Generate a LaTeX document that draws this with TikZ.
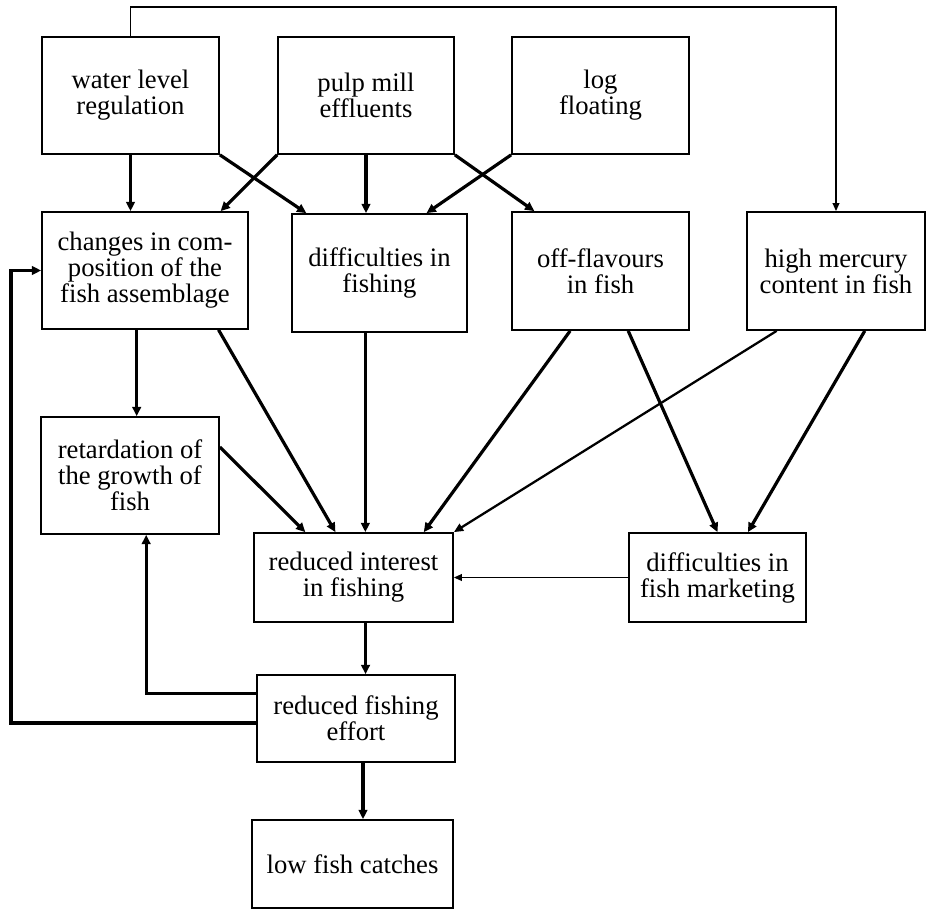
\documentclass[tikz,border=0pt]{standalone}
\usepackage{fontspec}
\setmainfont{Liberation Serif}
\usetikzlibrary{arrows.meta,calc}

\tikzset{every picture/.style={line width=0.75pt}}
\tikzset{
  factor/.style={draw, rectangle, line width=1.3pt, align=center, inner sep=0pt,
    font=\fontsize{20}{19.5}\selectfont},
  boxsize/.style 2 args={minimum width=#1*0.75pt, minimum height=#2*0.75pt},
  link/.style={line width=2.4pt, -{Triangle[length=7pt,width=6.5pt]}},
  midlink/.style={line width=1.7pt, -{Triangle[length=7pt,width=6pt]}},
  thinlink/.style={line width=1.2pt, -{Triangle[length=6pt,width=5pt]}},
}

\begin{document}
\begin{tikzpicture}[x=0.75pt,y=0.75pt,yscale=-1,xscale=1]
    \useasboundingbox (0,0) rectangle (928,910);

    %Shape: Rectangle (causes)
    \node[factor, boxsize={177}{117}] (water) at (130.5,95.5) {water level\\regulation};
    \node[factor, boxsize={176}{117}] (pulp) at (366,95.5) {pulp mill\\effluents};
    \node[factor, boxsize={177}{117}] (logf) at (600.5,95.5) {log\\floating};
    %Shape: Rectangle (effects)
    \node[factor, boxsize={206}{117}] (changes) at (145,270.5) {changes in com-\\position of the\\fish assemblage};
    \node[factor, boxsize={175}{118}] (fishing) at (379.5,273) {difficulties in\\fishing};
    \node[factor, boxsize={177}{118}] (flavour) at (600.5,271) {off-flavours\\in fish};
    \node[factor, boxsize={178}{118}] (mercury) at (836,271) {high mercury\\content in fish};
    \node[factor, boxsize={178}{117}] (growth) at (130,475.5) {retardation of\\the growth of\\fish};
    \node[factor, boxsize={199}{89}] (interest) at (353.5,577.5) {reduced interest\\in fishing};
    \node[factor, boxsize={177}{89}] (marketing) at (717.5,577.5) {difficulties in\\fish marketing};
    \node[factor, boxsize={198}{87}] (effort) at (356,718.5) {reduced fishing\\effort};
    \node[factor, boxsize={201}{88}] (catches) at (352.5,864) {low fish catches};

    %Coordinates for the connectors
    \coordinate (cs) at ($(changes.south west)!0.46!(changes.south east)$);
    \coordinate (fs) at ($(fishing.south west)!0.42!(fishing.south east)$);
    \coordinate (is) at ($(interest.south west)!0.56!(interest.south east)$);
    \coordinate (es) at ($(effort.south west)!0.535!(effort.south east)$);
    \coordinate (ew1) at ($(effort.north west)!0.22!(effort.south west)$);
    \coordinate (ew2) at ($(effort.north west)!0.55!(effort.south west)$);
    \coordinate (gs) at ($(growth.south west)!0.59!(growth.south east)$);
    \coordinate (rail) at (11,0);
    \coordinate (roof) at (0,7);

    %Straight Lines (top row)
    \draw[link] (water.south) -- (water.south |- changes.north);
    \draw[link] (water.south east) -- ($(fishing.north west)!0.086!(fishing.north east)$);
    \draw[link] (pulp.south west) -- ($(changes.north west)!0.864!(changes.north east)$);
    \draw[link] (pulp.south) -- (pulp.south |- fishing.north);
    \draw[link] (pulp.south east) -- ($(flavour.north west)!0.13!(flavour.north east)$);
    \draw[link] (logf.south west) -- ($(fishing.north west)!0.766!(fishing.north east)$);
    %Straight Lines (water level to mercury)
    \draw[thinlink] (water.north) |- (roof -| mercury.north) -- (mercury.north);

    %Straight Lines (middle row)
    \draw[link] (cs) -- (cs |- growth.north);
    \draw[link] ($(changes.south west)!0.854!(changes.south east)$) -- ($(interest.north west)!0.41!(interest.north east)$);
    \draw[link] ($(growth.north east)!0.26!(growth.south east)$) -- ($(interest.north west)!0.26!(interest.north east)$);
    \draw[link] (fs) -- (fs |- interest.north);
    \draw[link] ($(flavour.south west)!0.33!(flavour.south east)$) -- ($(interest.north west)!0.85!(interest.north east)$);
    \draw[midlink] ($(mercury.south west)!0.17!(mercury.south east)$) -- (interest.north east);
    \draw[link] ($(flavour.south west)!0.655!(flavour.south east)$) -- (marketing.north);
    \draw[link] ($(mercury.south west)!0.66!(mercury.south east)$) -- ($(marketing.north west)!0.67!(marketing.north east)$);
    \draw[thinlink] (marketing.west) -- (interest.east);

    %Straight Lines (bottom)
    \draw[link] (is) -- (is |- effort.north);
    \draw[link] (es) -- (es |- catches.north);
    \draw[link] (ew1) -| (gs);
    \draw[link] (ew2) -- (ew2 -| rail) |- (changes.west);

\end{tikzpicture}
\end{document}
